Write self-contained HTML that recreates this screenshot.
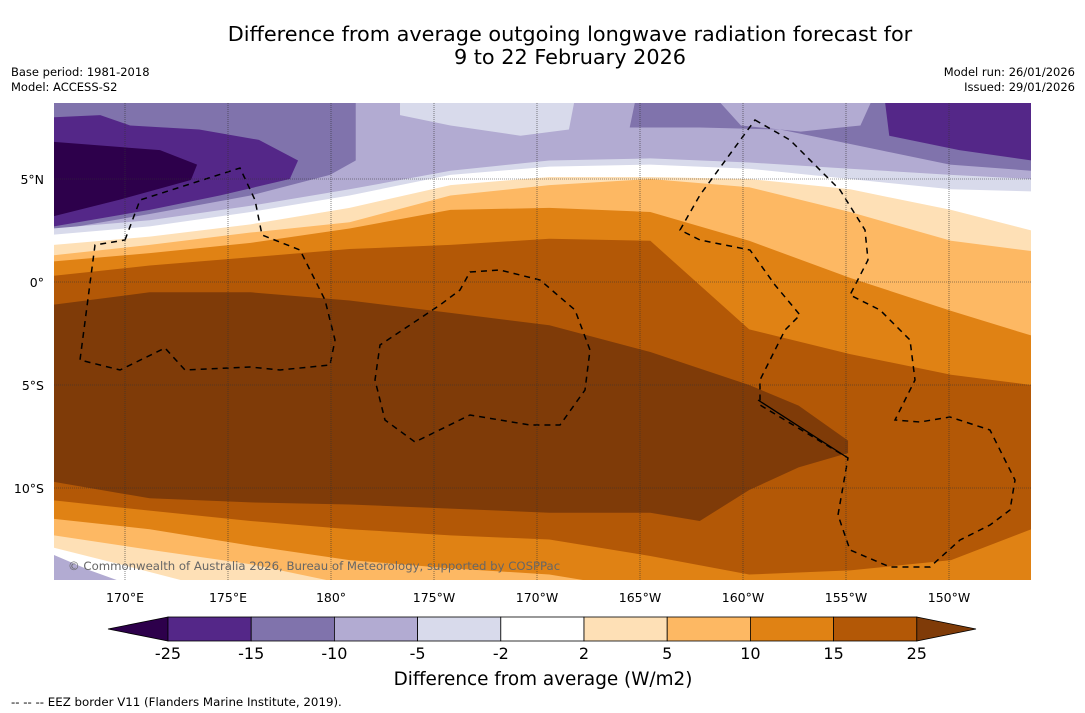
<!DOCTYPE html>
<html><head><meta charset="utf-8"><style>
body{margin:0;background:#fff;width:1085px;height:713px;overflow:hidden;font-family:"DejaVu Sans",sans-serif}
svg{display:block}
</style></head><body>
<svg id="chart" width="1085" height="713" xmlns="http://www.w3.org/2000/svg" font-family="DejaVu Sans, sans-serif">
<rect width="1085" height="713" fill="#fff"/>
<text x="570" y="41" font-size="20.8" text-anchor="middle">Difference from average outgoing longwave radiation forecast for</text>
<text x="570" y="64" font-size="20.8" text-anchor="middle">9 to 22 February 2026</text>
<text x="11" y="76" font-size="11.5">Base period: 1981-2018</text>
<text x="11" y="91" font-size="11.5">Model: ACCESS-S2</text>
<text x="1075" y="76" font-size="11.5" text-anchor="end">Model run: 26/01/2026</text>
<text x="1075" y="91" font-size="11.5" text-anchor="end">Issued: 29/01/2026</text>
<defs><clipPath id="mapclip"><rect x="54" y="103" width="977" height="477"/></clipPath></defs>
<g id="map" clip-path="url(#mapclip)"></g>
<g id="axes"></g>
<g id="cbar"></g>
<text x="543" y="685" font-size="18.4" text-anchor="middle">Difference from average (W/m2)</text>
<text x="11" y="706" font-size="11.8">--  --  -- EEZ border V11 (Flanders Marine Institute, 2019).</text>
</svg>
<script>
const levels=[-25,-15,-10,-5,-2,2,5,10,15,25];
const colors=["#2d004b","#542788","#8073ac","#b2abd2","#d8daeb","#ffffff","#fee0b6","#fdb863","#e08214","#b35806","#7f3b08"];
const lonTicks=[170,175,180,185,190,195,200,205,210];
const lonLabels=["170°E","175°E","180°","175°W","170°W","165°W","160°W","155°W","150°W"];
const latTicks=[5,0,-5,-10];
const latLabels=["5°N","0°","5°S","10°S"];
const knotLons=[166.55,171.2,176.1,180.9,185.8,190.6,195.5,200.3,205.2,210.1,214.0];
const bandLavender=[2.6,3.0,3.7,4.5,5.4,5.9,6.0,5.8,5.5,5.2,5.0];
const bandWhite=[2.3,2.7,3.4,4.2,5.2,5.6,5.7,5.5,5.0,4.5,4.4];
const bandPale=[1.8,2.2,2.8,3.6,4.7,5.1,5.1,5.0,4.5,3.5,2.5];
const bandLightOrange=[1.3,1.8,2.4,2.9,4.2,4.7,5.0,4.6,3.4,2.0,1.5];
const bandOrange=[1.0,1.4,1.9,2.6,3.5,3.6,3.4,2.0,0.2,-1.4,-2.6];
const bandBrown=[0.3,0.8,1.2,1.6,1.8,2.1,2.0,-2.3,-3.5,-4.5,-5.0];
const lowOrange=[-10.6,-11.1,-11.6,-12.0,-12.3,-12.5,-13.3,-14.2,-14.0,-13.5,-12.0];
const lowLightLons=[166.55,171.2,176.1,180.9,185.8,190.6,195.5];
const lowLight=[-11.5,-12.0,-12.8,-13.5,-13.9,-14.2,-15];
const lowPaleLons=[166.55,171.2,176.1,180.9];
const lowPale=[-12.3,-13.0,-13.7,-14.7];
const lowWhiteLons=[166.55,169.75,173.6];
const lowWhite=[-12.9,-13.7,-14.7];
const lowPurpleLons=[166.55,168.3,170.25];
const lowPurple=[-13.25,-14.0,-14.7];
const darkLons=[166.55,171.2,176.1,180.9,185.8,190.6,195.5,200.3,202.7,205.1,205.1,202.7,200.3,197.9,195.5,190.6,185.8,180.9,176.1,171.2,166.55];
const darkLats=[-1.1,-0.5,-0.5,-0.9,-1.5,-2.1,-3.4,-5.0,-6.0,-7.7,-8.3,-9.0,-10.1,-11.6,-11.2,-11.2,-11.0,-10.8,-10.7,-10.5,-9.7];
const patches=[
 {c:2,lons:[166.55,181.2,181.2,179.95,176.1,171.2,166.55],lats:[8.7,8.7,5.9,5.2,4.2,3.3,2.5]},
 {c:1,lons:[166.55,168.8,170.25,173.6,176.5,178.4,178.0,174.6,171.2,166.55],lats:[8.0,8.1,7.6,7.4,6.9,5.9,5.0,4.2,3.5,2.7]},
 {c:0,lons:[166.55,171.7,173.5,173.2,169.75,166.55],lats:[6.8,6.4,5.7,4.95,4.0,3.2]},
 {c:4,lons:[183.35,191.8,191.55,189.2,185.8,183.35],lats:[8.7,8.7,7.4,7.1,7.6,8.1]},
 {c:2,lons:[194.75,214,214,210.05,206.65,201.8,197.9,194.5],lats:[8.7,8.7,5.4,5.7,6.4,7.4,7.5,7.5]},
 {c:3,lons:[198.9,206.2,205.7,202.8,199.9],lats:[8.7,8.7,7.6,7.3,7.6]},
 {c:1,lons:[206.9,214,214,210.5,207.1],lats:[8.7,8.7,5.9,6.4,7.1]}
];
const X=lon=>125+(lon-170)*20.6;
const Y=lat=>282-lat*20.6;
const NS="http://www.w3.org/2000/svg";
const map=document.getElementById('map');
function mk(tag,attrs,parent){const e=document.createElementNS(NS,tag);for(const k in attrs)e.setAttribute(k,attrs[k]);parent.appendChild(e);return e;}
function belowPath(lons,lats){let d="M"+X(lons[0])+","+Y(lats[0]);for(let i=1;i<lons.length;i++)d+="L"+X(lons[i])+","+Y(lats[i]);d+="L"+X(lons[lons.length-1])+",600L"+X(lons[0])+",600Z";return d;}
function polyPath(lons,lats){let d="";for(let i=0;i<lons.length;i++)d+=(i?"L":"M")+X(lons[i])+","+Y(lats[i]);return d+"Z";}
let bg=mk('rect',{x:54,y:103,width:977,height:477,fill:colors[3]},map);


patches.forEach(p=>{const e=mk('path',{d:polyPath(p.lons,p.lats),fill:colors[p.c]},map);

});
const bands=[[bandLavender,4],[bandWhite,5],[bandPale,6],[bandLightOrange,7],[bandOrange,8],[bandBrown,9]];
bands.forEach(b=>{const e=mk('path',{d:belowPath(knotLons,b[0]),fill:colors[b[1]]},map);

});
let dk=mk('path',{d:polyPath(darkLons,darkLats),fill:colors[10]},map);


[[knotLons,lowOrange,8],[lowLightLons,lowLight,7],[lowPaleLons,lowPale,6],[lowWhiteLons,lowWhite,5],[lowPurpleLons,lowPurple,3]].forEach(b=>{
 const e=mk('path',{d:belowPath(b[0],b[1]),fill:colors[b[2]]},map);
 
 });
const eez=["M125,240L140,200L240,168L255,200L262,235L300,250L325,300L335,340L330,365L280,370L250,367L185,370L165,348L120,370L80,360L95,245Z",
"M470,272L500,270L540,280L575,310L590,350L585,390L560,425L530,425L470,415L415,442L385,420L375,380L380,345L440,305L460,290Z",
"M755,120L790,140L840,190L865,230L868,260L850,295L880,310L910,340L915,380L895,420L920,422L950,417L990,430L1015,480L1010,510L990,525L960,540L930,567L890,567L850,550L838,515L848,458L760,405L760,380L785,330L800,315L775,285L750,250L700,240L680,230L700,195Z"];
eez.forEach(d=>{const e=mk('path',{d:d,fill:'none',stroke:'#000','stroke-width':1.5,'stroke-dasharray':'6,5'},map);

});
let sl=mk('path',{d:'M758,400L848,458',stroke:'#000','stroke-width':1.3,fill:'none'},map);


const ax=document.getElementById('axes');
lonTicks.forEach((l,i)=>{mk('line',{x1:X(l),x2:X(l),y1:103,y2:580,stroke:'#333','stroke-width':0.6,'stroke-dasharray':'1,1'},ax);
 const t=mk('text',{x:X(l),y:602,'font-size':12.5,'text-anchor':'middle'},ax);t.textContent=lonLabels[i];
 
 });
latTicks.forEach((l,i)=>{mk('line',{x1:54,x2:1031,y1:Y(l),y2:Y(l),stroke:'#333','stroke-width':0.6,'stroke-dasharray':'1,1'},ax);
 const t=mk('text',{x:44,y:Y(l)+5,'font-size':12.5,'text-anchor':'end'},ax);t.textContent=latLabels[i];
 
 });
const cr=mk('text',{x:68,y:570,'font-size':11.7,fill:'#666'},ax);cr.textContent="© Commonwealth of Australia 2026, Bureau of Meteorology, supported by COSPPac";


const cb=document.getElementById('cbar');
const cx0=168,cw=83.2,cy=617,ch=24;
const lt=mk('path',{d:`M${cx0},${cy}L108,${cy+ch/2}L${cx0},${cy+ch}Z`,fill:colors[0],stroke:'#000','stroke-width':0.8},cb);


for(let i=0;i<levels.length-1;i++){const r=mk('rect',{x:cx0+i*cw,y:cy,width:cw,height:ch,fill:colors[i+1],stroke:'#000','stroke-width':0.8},cb);
 
 }
const xe=cx0+(levels.length-1)*cw;
const rt=mk('path',{d:`M${xe},${cy}L976,${cy+ch/2}L${xe},${cy+ch}Z`,fill:colors[10],stroke:'#000','stroke-width':0.8},cb);


levels.forEach((v,i)=>{const t=mk('text',{x:cx0+i*cw,y:659,'font-size':16,'text-anchor':'middle'},cb);t.textContent=v;
 
 });
</script>
</body></html>
